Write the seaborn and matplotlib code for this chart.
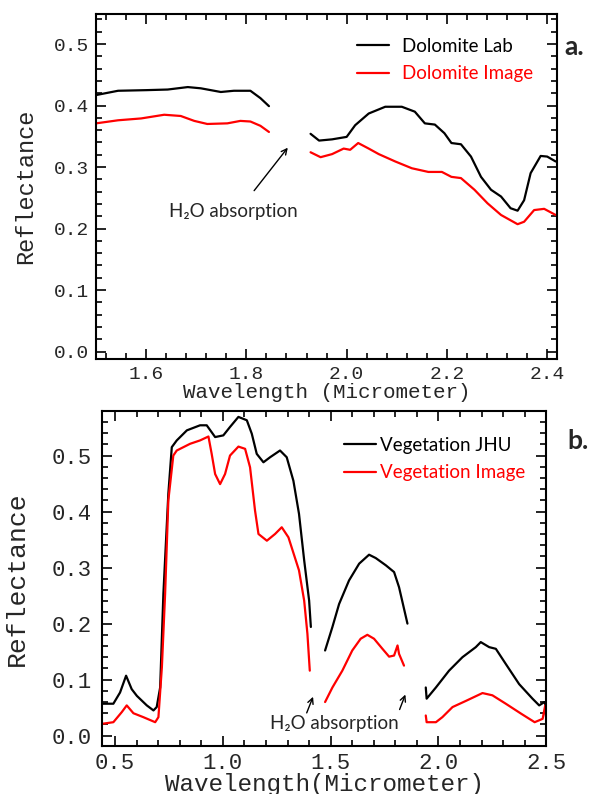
"""
Reflectance spectra: dolomite (lab vs image) and vegetation (JHU vs image).
"""

import pandas as pd
import seaborn as sns
from matplotlib import pyplot as plt
from matplotlib.lines import Line2D
from matplotlib.ticker import MultipleLocator, FormatStrFormatter

# ---- panel a: dolomite ----
lab_w1 = [1.50, 1.544, 1.60, 1.643, 1.683, 1.709, 1.749, 1.775, 1.808, 1.828, 1.845]
lab_r1 = [0.417, 0.424, 0.425, 0.426, 0.430, 0.428, 0.422, 0.424, 0.424, 0.412, 0.399]
lab_w2 = [1.928, 1.945, 1.971, 2.000, 2.017, 2.044, 2.077, 2.110, 2.136, 2.156, 2.176,
          2.195, 2.209, 2.228, 2.248, 2.268, 2.288, 2.308, 2.327, 2.341, 2.354, 2.367,
          2.387, 2.400, 2.417]
lab_r2 = [0.354, 0.343, 0.345, 0.349, 0.368, 0.387, 0.398, 0.398, 0.390, 0.371, 0.369,
          0.355, 0.339, 0.337, 0.317, 0.284, 0.263, 0.252, 0.233, 0.229, 0.246, 0.290,
          0.318, 0.317, 0.309]

img_w1 = [1.50, 1.544, 1.590, 1.636, 1.669, 1.696, 1.722, 1.762, 1.788, 1.808, 1.828, 1.845]
img_r1 = [0.371, 0.376, 0.379, 0.385, 0.383, 0.375, 0.370, 0.371, 0.375, 0.374, 0.367, 0.357]
img_w2 = [1.928, 1.948, 1.971, 1.994, 2.007, 2.023, 2.044, 2.064, 2.097, 2.130, 2.163,
          2.190, 2.209, 2.228, 2.255, 2.281, 2.308, 2.341, 2.354, 2.374, 2.394, 2.417]
img_r2 = [0.324, 0.316, 0.321, 0.330, 0.328, 0.339, 0.330, 0.321, 0.309, 0.298, 0.292,
          0.292, 0.284, 0.282, 0.263, 0.241, 0.222, 0.207, 0.211, 0.230, 0.232, 0.222]

# ---- panel b: vegetation ----
jhu_w1 = [0.438, 0.492, 0.523, 0.551, 0.577, 0.601, 0.647, 0.678, 0.693, 0.709, 0.724,
          0.747, 0.763, 0.786, 0.833, 0.894, 0.925, 0.964, 1.002, 1.033, 1.072, 1.111,
          1.134, 1.157, 1.188, 1.219, 1.265, 1.296, 1.327, 1.353, 1.377, 1.400, 1.408]
jhu_r1 = [0.057, 0.057, 0.077, 0.107, 0.083, 0.071, 0.054, 0.045, 0.051, 0.086, 0.253,
          0.432, 0.515, 0.527, 0.545, 0.554, 0.554, 0.533, 0.536, 0.551, 0.569, 0.563,
          0.539, 0.503, 0.488, 0.497, 0.509, 0.497, 0.455, 0.396, 0.313, 0.241, 0.194]
jhu_w2 = [1.474, 1.508, 1.539, 1.585, 1.632, 1.678, 1.709, 1.756, 1.794, 1.817, 1.856]
jhu_r2 = [0.152, 0.194, 0.235, 0.277, 0.307, 0.323, 0.317, 0.304, 0.292, 0.265, 0.200]
jhu_w3 = [1.941, 1.945, 1.988, 2.049, 2.111, 2.173, 2.196, 2.235, 2.266, 2.312, 2.374,
          2.436, 2.467, 2.491, 2.500]
jhu_r3 = [0.086, 0.066, 0.086, 0.116, 0.140, 0.158, 0.167, 0.158, 0.155, 0.128, 0.092,
          0.066, 0.054, 0.060, 0.051]

veg_w1 = [0.438, 0.492, 0.531, 0.554, 0.585, 0.631, 0.686, 0.701, 0.717, 0.732, 0.747,
          0.770, 0.786, 0.848, 0.894, 0.933, 0.948, 0.964, 0.987, 1.010, 1.033, 1.072,
          1.103, 1.126, 1.149, 1.165, 1.204, 1.242, 1.273, 1.304, 1.353, 1.377, 1.392, 1.403]
veg_r1 = [0.021, 0.024, 0.042, 0.054, 0.040, 0.033, 0.024, 0.033, 0.122, 0.253, 0.420,
          0.500, 0.509, 0.521, 0.527, 0.534, 0.503, 0.467, 0.449, 0.467, 0.500, 0.516,
          0.512, 0.479, 0.402, 0.360, 0.348, 0.360, 0.372, 0.354, 0.295, 0.241, 0.182, 0.116]
veg_w2 = [1.474, 1.508, 1.554, 1.600, 1.639, 1.670, 1.701, 1.740, 1.771, 1.794, 1.810,
          1.817, 1.840]
veg_r2 = [0.060, 0.086, 0.116, 0.152, 0.173, 0.180, 0.173, 0.155, 0.141, 0.143, 0.161,
          0.146, 0.125]
veg_w3 = [1.941, 1.945, 1.988, 2.018, 2.065, 2.127, 2.204, 2.250, 2.312, 2.384, 2.446,
          2.483, 2.495, 2.500]
veg_r3 = [0.036, 0.024, 0.024, 0.033, 0.051, 0.062, 0.076, 0.072, 0.057, 0.039, 0.024,
          0.030, 0.054, 0.027]

COLORS = {"black": "#000000", "red": "#ff0000"}
MONO = "Liberation Mono"
SANS = ["Lato", "DejaVu Sans"]


def spectrum_frame(series: dict) -> pd.DataFrame:
    """
    One long table; each broken piece of a spectrum gets its own unit.
    """
    frames = []
    for name, (color, segments) in series.items():
        for seg_id, (w, r) in enumerate(segments):
            frames.append(pd.DataFrame({
                "Wavelength": w,
                "Reflectance": r,
                "Series": name,
                "Segment": f"{name}-{seg_id}",
            }))
    return pd.concat(frames, ignore_index=True)


def style_axes(ax, xlim, ylim, xmajor, xminor, tick_size):
    ax.set_xlim(*xlim)
    ax.set_ylim(*ylim)
    ax.xaxis.set_major_locator(MultipleLocator(xmajor))
    ax.xaxis.set_minor_locator(MultipleLocator(xminor))
    ax.yaxis.set_major_locator(MultipleLocator(0.1))
    ax.yaxis.set_minor_locator(MultipleLocator(0.02))
    ax.xaxis.set_major_formatter(FormatStrFormatter("%.1f"))
    ax.yaxis.set_major_formatter(FormatStrFormatter("%.1f"))
    ax.tick_params(which="both", direction="in", top=True, right=True,
                   width=1.2, color="black")
    ax.tick_params(which="major", length=7.5, pad=5, labelsize=tick_size)
    ax.tick_params(which="minor", length=4)
    for lab in ax.get_xticklabels() + ax.get_yticklabels():
        lab.set_family(MONO)
    for sp in ax.spines.values():
        sp.set_linewidth(1.5)
        sp.set_color("black")


def draw(ax, series):
    df = spectrum_frame(series)
    palette = {name: color for name, (color, _) in series.items()}
    sns.lineplot(data=df, x="Wavelength", y="Reflectance", hue="Series",
                 units="Segment", estimator=None, palette=palette,
                 linewidth=1.6, legend=False, ax=ax)
    handles = [Line2D([], [], color=c, lw=1.6) for c, _ in series.values()]
    return handles, list(series.keys())


sns.set_style("ticks")
plt.rcParams["font.family"] = SANS

fig = plt.figure(figsize=(5.89, 7.94), dpi=100)
ax_a = fig.add_axes([0.163, 0.548, 0.783, 0.4345])
ax_b = fig.add_axes([0.1727, 0.0608, 0.7548, 0.4219])

# panel a
dolomite = {
    "Dolomite Lab": (COLORS["black"], [(lab_w1, lab_r1), (lab_w2, lab_r2)]),
    "Dolomite Image": (COLORS["red"], [(img_w1, img_r1), (img_w2, img_r2)]),
}
h, l = draw(ax_a, dolomite)
style_axes(ax_a, (1.5, 2.42), (-0.012, 0.549), 0.2, 0.04, 14)
ax_a.set_xlabel("Wavelength (Micrometer)", family=MONO, fontsize=15)
ax_a.set_ylabel("Reflectance", family=MONO, fontsize=17)
ax_a.xaxis.set_label_coords(0.5, -0.07)
ax_a.yaxis.set_label_coords(-0.127, 0.5)
ax_a.legend(h, l, loc="upper left", bbox_to_anchor=(0.566, 0.93), frameon=False,
            fontsize=13.5, handlelength=1.72, handletextpad=0.69, borderpad=0,
            borderaxespad=0, labelspacing=0.55, labelcolor="linecolor")
ax_a.annotate("", xy=(1.886, 0.335), xytext=(1.812, 0.258),
              arrowprops=dict(arrowstyle="->", lw=1, color="black"))
ax_a.text(1.774, 0.227, "H₂O absorption", ha="center", va="center",
          fontsize=13.5, family=SANS)
fig.text(0.9576, 0.9307, "a.", fontsize=19, fontweight="bold", family=SANS,
         ha="left", va="baseline")

# panel b
vegetation = {
    "Vegetation JHU": (COLORS["black"], [(jhu_w1, jhu_r1), (jhu_w2, jhu_r2), (jhu_w3, jhu_r3)]),
    "Vegetation Image": (COLORS["red"], [(veg_w1, veg_r1), (veg_w2, veg_r2), (veg_w3, veg_r3)]),
}
h, l = draw(ax_b, vegetation)
style_axes(ax_b, (0.438, 2.5), (-0.018, 0.58), 0.5, 0.1, 16)
ax_b.tick_params(axis="y", which="major", pad=7)
ax_b.set_xlabel("Wavelength(Micrometer)", family=MONO, fontsize=17.5)
ax_b.set_ylabel("Reflectance", family=MONO, fontsize=19)
ax_b.xaxis.set_label_coords(0.5, -0.08)
ax_b.yaxis.set_label_coords(-0.163, 0.5)
ax_b.legend(h, l, loc="upper left", bbox_to_anchor=(0.545, 0.922), frameon=False,
            fontsize=13.5, handlelength=1.72, handletextpad=0.18, borderpad=0,
            borderaxespad=0, labelspacing=0.55, labelcolor="linecolor")
for tail, head in [((1.384, 0.036), (1.423, 0.074)), ((1.815, 0.042), (1.851, 0.078))]:
    ax_b.annotate("", xy=head, xytext=tail,
                  arrowprops=dict(arrowstyle="->", lw=1, color="black"))
ax_b.text(1.518, 0.021, "H₂O absorption", ha="center", va="center",
          fontsize=13.5, family=SANS)
fig.text(0.9626, 0.4345, "b.", fontsize=19, fontweight="bold", family=SANS,
         ha="left", va="baseline")

fig.savefig("out.png", dpi=100)
